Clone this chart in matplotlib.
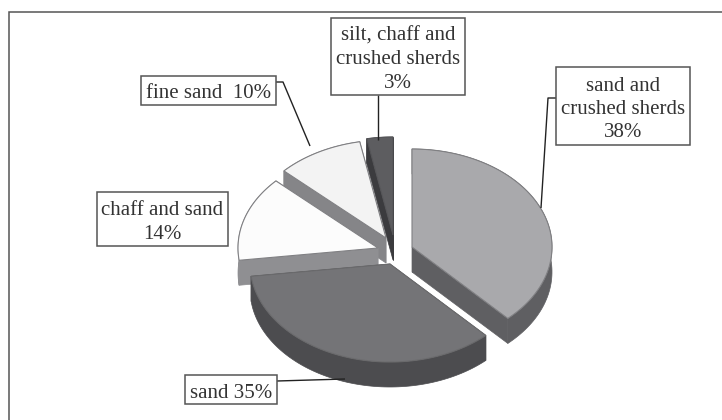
import numpy as np
import matplotlib
matplotlib.use("Agg")
import matplotlib.pyplot as plt

# data
categories = ["sand and\ncrushed sherds", "sand", "chaff and sand", "fine sand", "silt, chaff and\ncrushed sherds"]
values = [38, 35, 14, 10, 3]
label_texts = ["sand and\ncrushed sherds\n38%", "sand 35%", "chaff and sand\n14%",
               "fine sand  10%", "silt, chaff and\ncrushed sherds\n3%"]

# styles
top_colors = ["#a9a9ac", "#747477", "#fcfcfc", "#f3f3f3", "#5d5d60"]
wall_colors = ["#5f5f62", "#4c4c4f", "#8f8f92", "#858588", "#3b3b3e"]
edge_colors = ["#808083", "#6a6a6c", "#808083", "#808083", "#555558"]
apexes = [(412, 247), (390, 264), (378, 248), (386, 238), (393, 235)]
RX, RY, DEPTH = 140, 98, 25
draw_order = [4, 3, 2, 1, 0]
boxes = [(556, 67, 690, 145), (185, 375, 277, 404), (97, 192, 228, 246),
         (141, 76, 276, 105), (331, 18, 465, 95)]
leaders = [[(556, 98), (548, 98), (541, 208)], [(277, 381), (345, 379)], None,
           [(276, 82), (283, 82), (310, 146)], [(378, 95), (378, 140)]]

fig = plt.figure(figsize=(7.22, 4.2), dpi=100, facecolor="white")
ax = fig.add_axes([0, 0, 1, 1])
ax.set_xlim(0, 722)
ax.set_ylim(420, 0)
ax.axis("off")

# frame: only top and left are inside the crop
ax.plot([722, 8.5, 8.5], [11.5, 11.5, 420], color="#555555", lw=1.1, solid_joinstyle="miter", zorder=1)

fractions = np.array(values) / np.sum(values)
bounds = np.concatenate([[0], np.cumsum(fractions)]) * 2 * np.pi

z = 2
for i in draw_order:
    a0, a1 = bounds[i], bounds[i + 1]
    t = np.linspace(a0, a1, 90)
    cx, cy = apexes[i]
    ax_arc = cx + RX * np.sin(t)
    ay_arc = cy - RY * np.cos(t)
    wall_kw = dict(facecolor=wall_colors[i], edgecolor=wall_colors[i], lw=0.5, zorder=z)
    # outer curved wall as one ribbon
    ax.fill(np.r_[ax_arc, ax_arc[::-1]], np.r_[ay_arc, ay_arc[::-1] + DEPTH], **wall_kw)
    # the two cut walls
    for ex, ey in ((ax_arc[0], ay_arc[0]), (ax_arc[-1], ay_arc[-1])):
        ax.fill([cx, ex, ex, cx], [cy, ey, ey + DEPTH, cy + DEPTH], **wall_kw)
    z += 1
    ax.fill(np.r_[cx, ax_arc], np.r_[cy, ay_arc], facecolor=top_colors[i],
            edgecolor=edge_colors[i], lw=0.8, joinstyle="miter", zorder=z)
    z += 1

z = 50
for i, txt in enumerate(label_texts):
    if leaders[i]:
        lx, ly = zip(*leaders[i])
        ax.plot(lx, ly, color="#222222", lw=1.0, zorder=z, solid_capstyle="butt")
    x0, y0, x1, y1 = boxes[i]
    ax.fill([x0, x1, x1, x0], [y0, y0, y1, y1], facecolor="white", edgecolor="#555555",
            lw=1.1, joinstyle="miter", zorder=z + 1)
    ax.text((x0 + x1) / 2, (y0 + y1) / 2 + 3.5, txt, ha="center", va="center", multialignment="center",
            family="Liberation Serif", fontsize=15.0, color="#333333", linespacing=1.32, zorder=z + 2)

fig.savefig("out.png", dpi=100, facecolor="white")
